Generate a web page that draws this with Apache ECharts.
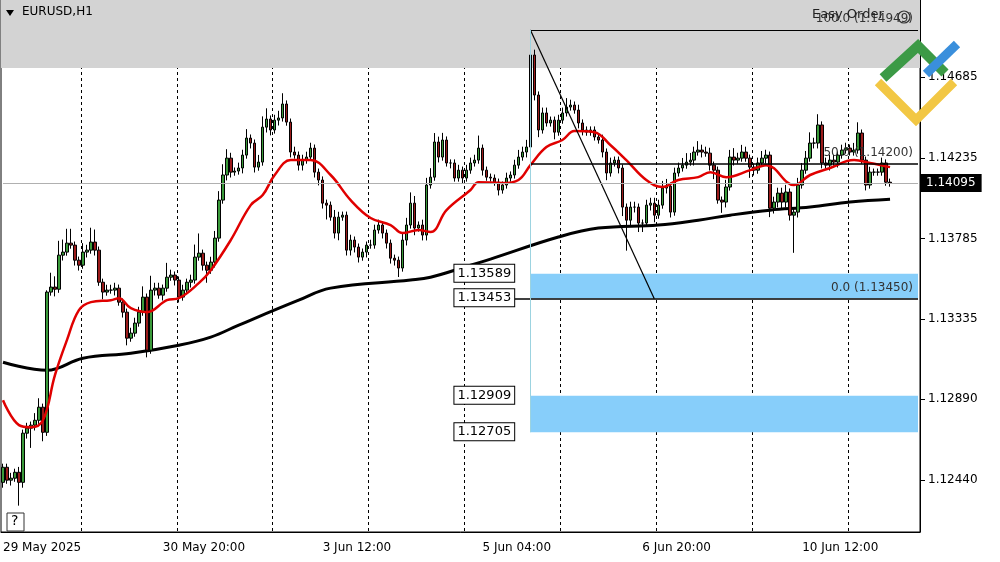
<!DOCTYPE html>
<html>
<head>
<meta charset="utf-8">
<script src="https://cdn.jsdelivr.net/npm/echarts@6/dist/echarts.min.js"></script>
<style>
  html, body { margin: 0; padding: 0; background: #fff; }
  #chart { width: 1000px; height: 562px; }
</style>
</head>
<body>
<div id="chart"></div>
<script>
// EURUSD H1 closes (open = previous close)
const firstOpen = 1.12426;
const closes = [
  1.12510, 1.12438, 1.12449, 1.12482, 1.12426, 1.12700, 1.12728, 1.12745, 1.12772, 1.12845,
  1.12705, 1.13487, 1.13515, 1.13503, 1.13693, 1.13710, 1.13760, 1.13749, 1.13665, 1.13637,
  1.13710, 1.13721, 1.13766, 1.13721, 1.13542, 1.13487, 1.13498, 1.13498, 1.13509, 1.13431,
  1.13375, 1.13230, 1.13258, 1.13314, 1.13375, 1.13459, 1.13163, 1.13498, 1.13509, 1.13470,
  1.13509, 1.13570, 1.13582, 1.13554, 1.13459, 1.13498, 1.13542, 1.13554, 1.13682, 1.13704,
  1.13637, 1.13609, 1.13654, 1.13788, 1.14000, 1.14140, 1.14234,
  1.14156, 1.14162, 1.14179, 1.14251, 1.14346, 1.14318, 1.14184, 1.14212, 1.14407, 1.14452,
  1.14391, 1.14446, 1.14458, 1.14536, 1.14435, 1.14268, 1.14251, 1.14195, 1.14223, 1.14240,
  1.14290, 1.14156, 1.14112, 1.13983, 1.13972, 1.13905, 1.13816, 1.13905, 1.13916, 1.13721,
  1.13777, 1.13738, 1.13682, 1.13710, 1.13749, 1.13749, 1.13833, 1.13861, 1.13816, 1.13760,
  1.13676, 1.13665, 1.13621, 1.13777, 1.13861, 1.13983, 1.13844, 1.13861, 1.13805, 1.14084,
  1.14128, 1.14324, 1.14240, 1.14335, 1.14207, 1.14207, 1.14123,
  1.14167, 1.14123, 1.14167, 1.14207, 1.14223, 1.14290, 1.14167, 1.14128, 1.14123, 1.14100,
  1.14056, 1.14084, 1.14123, 1.14140, 1.14195, 1.14240, 1.14268, 1.14296, 1.14809, 1.14586,
  1.14391, 1.14486, 1.14430, 1.14446, 1.14379, 1.14446, 1.14486, 1.14519, 1.14530, 1.14502,
  1.14430, 1.14391, 1.14379, 1.14391, 1.14352, 1.14335, 1.14268, 1.14151, 1.14207, 1.14223,
  1.14179, 1.13961, 1.13888, 1.13961, 1.13961, 1.13872, 1.13872, 1.13972, 1.13983, 1.13916,
  1.13972, 1.14067, 1.14078, 1.13933, 1.14151, 1.14179, 1.14195, 1.14212, 1.14223, 1.14268,
  1.14279, 1.14268, 1.14262, 1.14195, 1.14167, 1.14000, 1.13989, 1.14073, 1.14240, 1.14223,
  1.14234, 1.14268, 1.14234, 1.14184, 1.14167, 1.14207, 1.14234, 1.14251, 1.13955, 1.13989,
  1.14039, 1.13989, 1.14045, 1.13916, 1.13933, 1.14084, 1.14167, 1.14234, 1.14318, 1.14318,
  1.14419, 1.14207, 1.14195, 1.14223, 1.14212, 1.14251, 1.14279, 1.14290, 1.14268, 1.14279,
  1.14374, 1.14223, 1.14084, 1.14156, 1.14156, 1.14156, 1.14207, 1.14100, 1.14095
];
// upper / lower wick length beyond the body, in pips
const wickUp = [
  2,2,3,2,3,2,3,2,4,5, 2,1,8,6,8,7,8,8,2,2, 5,3,8,7,2,2,3,3,3,2,
  2,2,3,3,3,6,2,8,3,3, 2,8,3,2,2,3,2,3,7,11, 2,2,3,4,5,6,5,
  3,2,3,3,5,2,2,4,6,6, 2,3,4,6,2,2,3,2,3,3, 3,2,2,2,2,2,4,3,2,2,
  3,2,2,2,2,3,3,3,2,2, 2,2,2,4,4,6,4,2,3,4, 5,5,3,4,2,2,2,
  3,2,3,3,3,7,2,2,2,2, 2,2,3,2,3,4,3,4,14,3, 2,3,3,2,2,3,3,5,3,2,
  3,2,2,2,2,2,3,2,3,2, 2,2,2,3,3,2,2,3,3,3, 3,4,4,2,3,3,4,5,4,3,
  5,3,3,3,2,2,2,4,4,5, 3,4,3,2,2,3,4,3,2,3, 3,3,4,2,2,4,4,4,6,3,
  6,2,3,3,3,2,3,3,2,4, 6,2,2,3,2,2,3,2,2
];
const wickDn = [
  3,2,3,2,13,3,3,11,3,2, 5,2,2,4,2,3,2,2,3,3, 2,3,2,3,2,4,2,2,3,2,
  3,4,2,2,2,2,4,2,3,2, 3,2,2,3,3,2,2,3,2,2, 3,7,2,3,2,2,3,
  3,2,2,3,2,3,3,2,2,3, 3,2,3,2,2,3,2,3,3,2, 2,3,3,3,8,2,3,4,2,3,
  3,3,3,2,3,2,2,2,3,3, 3,3,5,2,3,2,4,2,3,3, 2,2,3,2,2,3,2,
  2,3,2,2,2,2,3,2,2,2, 3,2,2,2,2,2,2,3,2,3, 4,2,2,2,4,2,2,2,2,2,
  3,3,2,2,2,2,3,4,2,2, 3,5,17,3,3,5,5,2,3,4, 2,2,3,3,2,2,2,2,2,3,
  2,3,2,3,5,2,6,3,2,3, 2,2,2,6,3,2,2,3,5,3, 3,4,3,3,21,3,2,2,2,3,
  3,3,2,3,2,3,2,2,2,2, 2,2,3,2,2,2,2,2,2
];
const emptySlots = 7;
const xTickLabels = ['29 May 2025', '30 May 20:00', '3 Jun 12:00', '5 Jun 04:00', '6 Jun 20:00', '10 Jun 12:00'];
const yTickValues = [1.12440, 1.12890, 1.13335, 1.13785, 1.14235, 1.14685];
// moving averages read at sample bars: [bar index, price]
const maFast = [
  [0,1.12884],[4,1.12745],[7,1.12733],[10,1.12772],[13,1.13024],[16,1.13219],[19,1.13386],[22,1.13431],
  [27,1.13442],[29,1.13453],[32,1.13397],[36,1.13375],[41,1.13442],[44,1.13453],[49,1.13537],[52,1.13609],
  [57,1.13777],[62,1.13972],[65,1.14028],[68,1.14140],[72,1.14223],[77,1.14223],[82,1.14140],[87,1.14000],
  [92,1.13900],[97,1.13861],[100,1.13816],[104,1.13833],[107,1.13822],[111,1.13944],[117,1.14056],[119,1.14100],
  [125,1.14095],[129,1.14112],[132,1.14195],[136,1.14296],[140,1.14335],[143,1.14385],[148,1.14379],[152,1.14307],
  [156,1.14223],[161,1.14112],[165,1.14073],[169,1.14112],[174,1.14128],[177,1.14156],[181,1.14128],[187,1.14167],
  [191,1.14195],[198,1.14084],[202,1.14140],[207,1.14179],[213,1.14223],[217,1.14207],[222,1.14184]
];
const maSlow = [
  [0,1.13096],[11,1.13051],[20,1.13118],[32,1.13146],[44,1.13191],[52,1.13236],[59,1.13303],[74,1.13442],
  [82,1.13509],[102,1.13554],[107,1.13570],[117,1.13637],[122,1.13671],[139,1.13794],[149,1.13844],[164,1.13861],
  [174,1.13888],[182,1.13916],[192,1.13944],[202,1.13961],[212,1.13989],[222,1.14005]
];
const fibHigh = 1.14949, fibMid = 1.14200, fibLow = 1.13450;
const fibStart = 132, fibEnd = 163;
const zoneUpper = [1.13589, 1.13453];
const zoneLower = [1.12909, 1.12705];
const lastPrice = 1.14095;

const categories = [];
const candles = [];
let prev = firstOpen;
for (let i = 0; i < closes.length; i++) {
  const o = prev, c = closes[i];
  candles.push([o, c, Math.min(o, c) - wickDn[i] / 10000, Math.max(o, c) + wickUp[i] / 10000]);
  categories.push(String(i));
  prev = c;
}
for (let i = 0; i < emptySlots; i++) categories.push(String(closes.length + i));
const lastIdx = categories.length - 1;

const chart = echarts.init(document.getElementById('chart'));
const font = 'Verdana, "DejaVu Sans", sans-serif';
const option = {
  animation: false,
  grid: { left: 1, right: 80, top: 0, bottom: 30, show: true, borderColor: '#000', borderWidth: 1 },
  xAxis: {
    type: 'category',
    data: categories,
    axisLine: { lineStyle: { color: '#000' } },
    axisTick: { show: false },
    axisLabel: {
      color: '#000', fontFamily: font, fontSize: 12, align: 'left', margin: 10,
      interval: (i) => i % 40 === 0 && i / 40 < xTickLabels.length,
      formatter: (v, i) => xTickLabels[i / 40] || ''
    },
    splitLine: {
      show: true,
      interval: (i) => i % 24 === 20,
      lineStyle: { color: '#000', type: [3, 3], width: 1 }
    }
  },
  yAxis: {
    type: 'value', position: 'right', min: 1.12149, max: 1.15116,
    axisLine: { show: true, lineStyle: { color: '#000' } },
    axisTick: { show: true, customValues: yTickValues, length: 5, lineStyle: { color: '#000' } },
    axisLabel: { customValues: yTickValues, color: '#000', fontFamily: font, fontSize: 12, formatter: (v) => v.toFixed(5) },
    splitLine: { show: false }
  },
  series: [
    {
      type: 'candlestick',
      data: candles,
      barWidth: 3,
      itemStyle: { color: '#3a9a3a', color0: '#9b1b1b', borderColor: '#000', borderColor0: '#000', borderWidth: 1 },
      markArea: {
        silent: true,
        data: [
          [{ yAxis: 1.14737, itemStyle: { color: '#d3d3d3' } }, { yAxis: 1.15116 }],
          [{ coord: [fibStart, zoneUpper[0]], itemStyle: { color: '#87cefa' } }, { coord: [lastIdx, zoneUpper[1]] }],
          [{ coord: [fibStart, zoneLower[0]], itemStyle: { color: '#87cefa' } }, { coord: [lastIdx, zoneLower[1]] }]
        ]
      },
      markLine: {
        silent: true, symbol: 'none',
        label: { fontFamily: font, fontSize: 12, color: '#333' },
        data: [
          [{ coord: [fibStart, fibHigh], lineStyle: { color: '#000', width: 1, type: 'solid' },
             label: { show: true, position: 'insideEndTop', formatter: '100.0 (' + fibHigh.toFixed(5) + ')' } },
           { coord: [lastIdx, fibHigh] }],
          [{ coord: [fibStart, fibMid], lineStyle: { color: '#000', width: 1.5, type: 'solid' },
             label: { show: true, position: 'insideEndTop', formatter: '50.0 (' + fibMid.toFixed(5) + ')' } },
           { coord: [lastIdx, fibMid] }],
          [{ coord: [113, fibLow], lineStyle: { color: '#000', width: 1.5, type: 'solid' },
             label: { show: true, position: 'insideEndTop', formatter: '0.0 (' + fibLow.toFixed(5) + ')' } },
           { coord: [lastIdx, fibLow] }],
          [{ coord: [fibStart, fibHigh], lineStyle: { color: '#000', width: 1.2, type: 'solid' }, label: { show: false } },
           { coord: [fibEnd, fibLow] }],
          [{ coord: [fibStart, fibHigh], lineStyle: { color: '#9cd3e0', width: 1, type: 'solid' }, label: { show: false } },
           { coord: [fibStart, zoneLower[1]] }],
          [{ coord: [0, lastPrice], lineStyle: { color: '#b0b0b0', width: 1, type: 'solid' },
             label: { show: true, position: 'end', formatter: lastPrice.toFixed(5), color: '#fff', backgroundColor: '#000',
                      padding: [3, 6], fontSize: 12, fontFamily: font, distance: 2 } },
           { coord: [lastIdx, lastPrice] }]
        ]
      },
      z: 3
    },
    {
      type: 'line', data: maSlow, smooth: 0.4, showSymbol: false,
      lineStyle: { color: '#000', width: 3 }, z: 2
    },
    {
      type: 'line', data: maFast, smooth: 0.4, showSymbol: false,
      lineStyle: { color: '#e00000', width: 2.5 }, z: 4
    }
  ]
};
chart.setOption(option);

// price boxes at the left edge of the blue zones
const boxes = [zoneUpper[0], zoneUpper[1], zoneLower[0], zoneLower[1]];
const gfx = [];
boxes.forEach((p) => {
  const pt = chart.convertToPixel({ gridIndex: 0 }, [fibStart, p]);
  gfx.push({
    type: 'text', x: pt[0] - 76, y: pt[1] - 9, z: 100,
    style: { text: p.toFixed(5), font: '13px ' + font, fill: '#000', backgroundColor: '#fff',
             borderColor: '#000', borderWidth: 1, padding: [2, 3] }
  });
});
gfx.push(
  { type: 'polygon', z: 100, shape: { points: [[6, 10], [14, 10], [10, 16]] }, style: { fill: '#000' } },
  { type: 'text', z: 100, x: 22, y: 6, style: { text: 'EURUSD,H1', font: '12px ' + font, fill: '#000' } },
  { type: 'text', z: 100, x: 812, y: 8, style: { text: 'Easy Order', font: '13px ' + font, fill: '#222' } },
  { type: 'circle', z: 100, shape: { cx: 904, cy: 17, r: 6 }, style: { fill: 'none', stroke: '#333', lineWidth: 1.2 } },
  { type: 'rect', z: 100, shape: { x: 7, y: 513, width: 17, height: 18 }, style: { fill: '#fff', stroke: '#333' } },
  { type: 'text', z: 100, x: 11, y: 514, style: { text: '?', font: '14px ' + font, fill: '#000' } },
  // logo
  { type: 'polyline', z: 100, shape: { points: [[883, 78], [918, 46], [945, 73]] }, style: { stroke: '#3c9a46', lineWidth: 10, fill: 'none' } },
  { type: 'line', z: 101, shape: { x1: 926, y1: 74, x2: 957, y2: 44 }, style: { stroke: '#3a8fdc', lineWidth: 9 } },
  { type: 'polyline', z: 100, shape: { points: [[878, 82], [916, 120], [954, 82]] }, style: { stroke: '#f2c744', lineWidth: 9, fill: 'none' } }
);
chart.setOption({ graphic: gfx });
</script>
</body>
</html>
